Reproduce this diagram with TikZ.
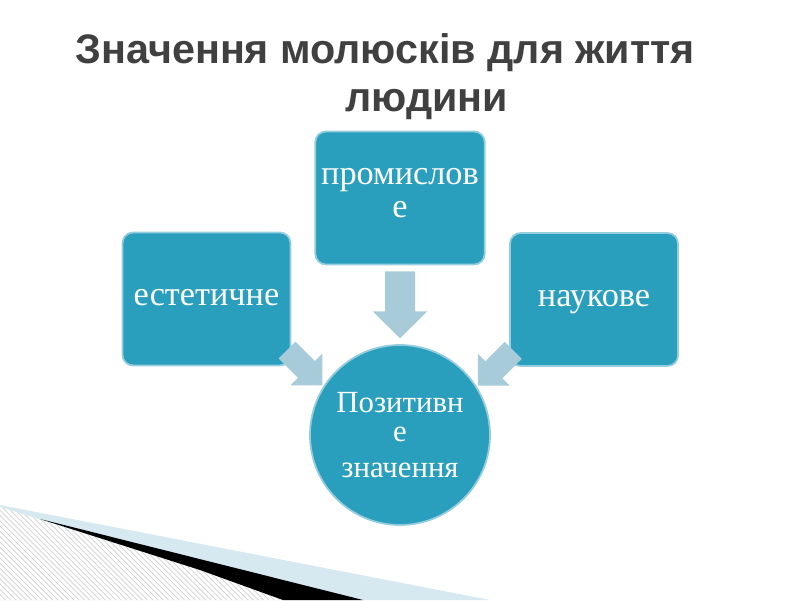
\documentclass[tikz,border=0pt]{standalone}
\usepackage{fontspec}
\setmainfont{Liberation Serif}
\newfontfamily\titlefont{Liberation Sans}
\usepackage{xcolor}
\usetikzlibrary{calc, positioning, patterns}

\definecolor{boxblue}{RGB}{42,159,189}
\definecolor{boxedge}{RGB}{150,205,222}
\definecolor{arrowblue}{RGB}{168,203,218}
\definecolor{paleblue}{RGB}{214,233,241}
\definecolor{titlegray}{RGB}{64,64,64}

\tikzset{
    kind/.style={rectangle, rounded corners=6pt, fill=boxblue, draw=boxedge, line width=1pt,
        minimum width=3.36cm, minimum height=2.66cm, text=white, align=center,
        font=\fontsize{19.5}{18.5}\selectfont, execute at begin node=\strut},
    centre/.style={circle, fill=boxblue, draw=boxedge, line width=1pt,
        minimum size=3.6cm, text=white, align=center, font=\fontsize{17.5}{16.5}\selectfont},
    heading/.style={text=titlegray, font=\titlefont\bfseries\fontsize{23.5}{28}\selectfont, inner sep=0pt},
    % length, head length, shaft half width, head half width
    pics/fatarrow/.style n args={4}{code={
        \fill[arrowblue] (-#1/2,-#3) -- (#1/2-#2,-#3) -- (#1/2-#2,-#4) -- (#1/2,0)
            -- (#1/2-#2,#4) -- (#1/2-#2,#3) -- (-#1/2,#3) -- cycle;
    }}
}

\begin{document}
\begin{tikzpicture}
    \useasboundingbox (0,0) rectangle (16,12);

    % Кут слайда внизу ліворуч
    \fill[paleblue] (0,1.9) -- (9.8,0) -- (0,0) -- cycle;
    \fill[white] (0,1.86) -- (4,0.6) -- (5.66,0) -- (0,0) -- cycle;
    \fill[pattern=north west lines, pattern color=gray!35] (0,1.86) -- (4,0.6) -- (5.66,0) -- (0,0) -- cycle;
    \fill[black] (0.8,1.62) -- (7.26,0) -- (5.66,0) -- (4,0.6) -- cycle;

    % Заголовок
    \node[heading, anchor=base west] (title1) at (1.5,10.72) {Значення молюсків для життя};
    \node[heading, anchor=base west] (title2) at (6.9,9.76) {людини};

    % Блоки
    \node[kind] (prom) at (8,8.04) {промислов\\е};
    \node[kind] (est) at (4.13,6.02) {естетичне};
    \node[kind] (nauk) at (11.88,6.01) {наукове};
    \node[centre] (pos) at (8,3.3) {Позитивн\\е\\[0.15cm]значення};

    % Стрілки
    \pic[rotate=-90] (arr1) at ($(prom.south)!0.5!(pos.north)$) {fatarrow={1.34}{0.54}{0.3}{0.55}};
    \pic[rotate=-45] (arr2) at ($(est.south east)!0.3!(pos.north west)$) {fatarrow={1.0}{0.45}{0.24}{0.45}};
    \pic[rotate=-135] (arr3) at ($(nauk.south west)!0.3!(pos.north east)$) {fatarrow={1.0}{0.45}{0.24}{0.45}};
\end{tikzpicture}
\end{document}
